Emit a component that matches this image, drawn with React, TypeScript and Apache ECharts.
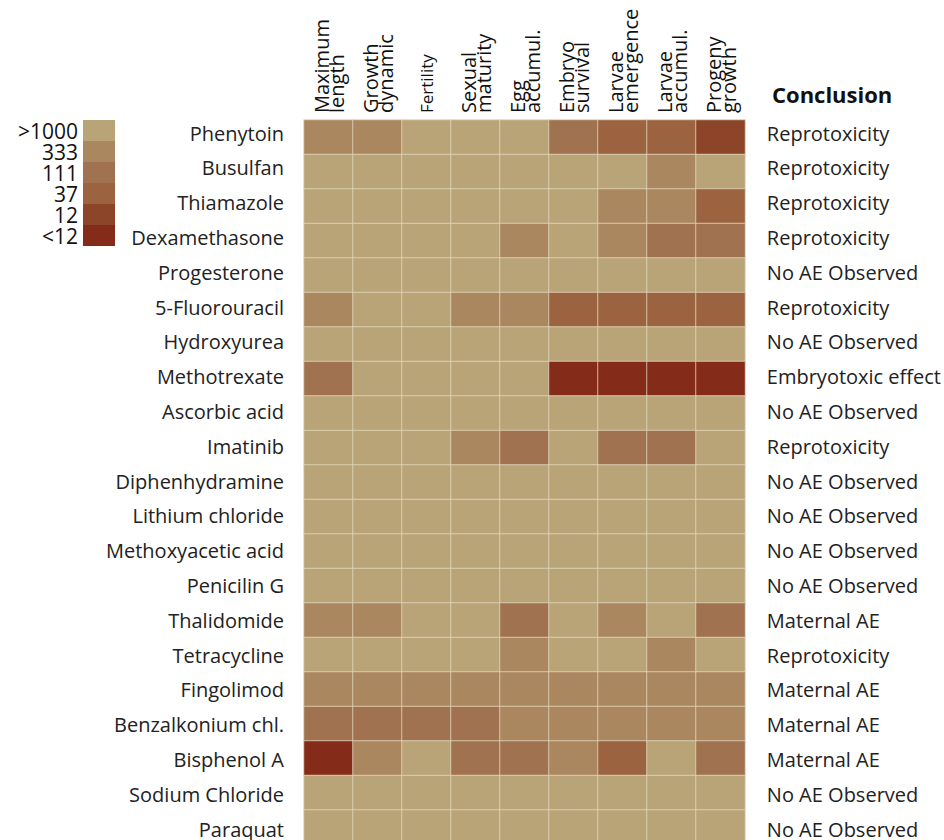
import React, { useEffect, useRef } from 'react';
import * as echarts from 'echarts';

const measures = [
  'Maximum\nlength',
  'Growth\ndynamic',
  'Fertility',
  'Sexual\nmaturity',
  'Egg\naccumul.',
  'Embryo\nsurvival',
  'Larvae\nemergence',
  'Larvae\naccumul.',
  'Progeny\ngrowth',
];

const compounds = [
  'Phenytoin',
  'Busulfan',
  'Thiamazole',
  'Dexamethasone',
  'Progesterone',
  '5-Fluorouracil',
  'Hydroxyurea',
  'Methotrexate',
  'Ascorbic acid',
  'Imatinib',
  'Diphenhydramine',
  'Lithium chloride',
  'Methoxyacetic acid',
  'Penicilin G',
  'Thalidomide',
  'Tetracycline',
  'Fingolimod',
  'Benzalkonium chl.',
  'Bisphenol A',
  'Sodium Chloride',
  'Paraquat',
];

const conclusions = [
  'Reprotoxicity',
  'Reprotoxicity',
  'Reprotoxicity',
  'Reprotoxicity',
  'No AE Observed',
  'Reprotoxicity',
  'No AE Observed',
  'Embryotoxic effect',
  'No AE Observed',
  'Reprotoxicity',
  'No AE Observed',
  'No AE Observed',
  'No AE Observed',
  'No AE Observed',
  'Maternal AE',
  'Reprotoxicity',
  'Maternal AE',
  'Maternal AE',
  'Maternal AE',
  'No AE Observed',
  'No AE Observed',
];

const levelLabels = ['>1000', '333', '111', '37', '12', '<12'];
const levelColors = ['#b9a477', '#ab875f', '#a0724f', '#9b6340', '#8c4528', '#842b1a'];

// level index per compound (row) and measure (column)
const levels = [
  [1, 1, 0, 0, 0, 2, 3, 3, 4],
  [0, 0, 0, 0, 0, 0, 0, 1, 0],
  [0, 0, 0, 0, 0, 0, 1, 1, 3],
  [0, 0, 0, 0, 1, 0, 1, 2, 2],
  [0, 0, 0, 0, 0, 0, 0, 0, 0],
  [1, 0, 0, 1, 1, 3, 3, 3, 3],
  [0, 0, 0, 0, 0, 0, 0, 0, 0],
  [2, 0, 0, 0, 0, 5, 5, 5, 5],
  [0, 0, 0, 0, 0, 0, 0, 0, 0],
  [0, 0, 0, 1, 2, 0, 2, 2, 0],
  [0, 0, 0, 0, 0, 0, 0, 0, 0],
  [0, 0, 0, 0, 0, 0, 0, 0, 0],
  [0, 0, 0, 0, 0, 0, 0, 0, 0],
  [0, 0, 0, 0, 0, 0, 0, 0, 0],
  [1, 1, 0, 0, 2, 0, 1, 0, 2],
  [0, 0, 0, 0, 1, 0, 0, 1, 0],
  [1, 1, 1, 1, 1, 1, 1, 1, 1],
  [2, 2, 2, 2, 1, 1, 1, 1, 1],
  [5, 1, 0, 2, 2, 1, 3, 0, 2],
  [0, 0, 0, 0, 0, 0, 0, 0, 0],
  [0, 0, 0, 0, 0, 0, 0, 0, 0],
];

const FONT = '"Open Sans", "DejaVu Sans", sans-serif';

export default function App() {
  const ref = useRef<HTMLDivElement>(null);

  useEffect(() => {
    if (!ref.current) return;
    const chart = echarts.init(ref.current, null, { renderer: 'svg' });

    const data: any[] = [];
    levels.forEach((row, r) => {
      row.forEach((lv, c) => {
        data.push([c, r, lv]);
      });
    });

    const hiddenAxis = {
      axisLine: { show: false },
      axisTick: { show: false },
      splitLine: { show: false },
    };

    chart.setOption({
      animation: false,
      backgroundColor: '#ffffff',
      textStyle: { fontFamily: FONT },
      title: {
        text: 'Conclusion',
        left: 772,
        top: 83,
        padding: 0,
        textStyle: { fontFamily: FONT, fontSize: 22, fontWeight: 'bold', color: '#111' },
      },
      grid: [
        { left: 304, top: 120, width: 441, height: 724.5 },
        { left: 304, top: 115.6, width: 441, height: 730.8 },
      ],
      xAxis: [
        {
          type: 'category',
          gridIndex: 0,
          position: 'top',
          data: measures,
          ...hiddenAxis,
          axisLabel: {
            rotate: -90,
            margin: 7,
            interval: 0,
            fontFamily: FONT,
            fontSize: 20,
            lineHeight: 15,
            color: '#111',
            formatter: (v: string) => (v === 'Fertility' ? '{s|Fertility}' : v),
            rich: { s: { fontSize: 17, fontFamily: FONT, color: '#111' } },
          },
        },
        {
          type: 'category',
          gridIndex: 1,
          data: measures,
          show: false,
        },
      ],
      yAxis: [
        {
          type: 'category',
          gridIndex: 0,
          data: compounds,
          inverse: true,
          ...hiddenAxis,
          axisLabel: { show: false },
        },
        {
          type: 'category',
          gridIndex: 1,
          data: compounds,
          inverse: true,
          ...hiddenAxis,
          axisLabel: { margin: 20, fontFamily: FONT, fontSize: 20, color: '#222', interval: 0 },
        },
        {
          type: 'category',
          gridIndex: 1,
          data: conclusions,
          inverse: true,
          position: 'right',
          ...hiddenAxis,
          axisLabel: { margin: 22, fontFamily: FONT, fontSize: 20, color: '#222', interval: 0 },
        },
      ],
      visualMap: {
        type: 'piecewise',
        dimension: 2,
        seriesIndex: 0,
        orient: 'vertical',
        inverse: true,
        align: 'right',
        right: 829,
        top: 120,
        padding: 0,
        itemWidth: 32,
        itemHeight: 21,
        itemGap: 0,
        itemSymbol: 'rect',
        textGap: 5,
        selectedMode: false,
        hoverLink: false,
        textStyle: { fontFamily: FONT, fontSize: 21, lineHeight: 21, color: '#111' },
        pieces: levelLabels.map((label, i) => ({ value: i, label, color: levelColors[i] })),
      },
      series: [
        {
          type: 'heatmap',
          xAxisIndex: 0,
          yAxisIndex: 0,
          data,
          itemStyle: { borderColor: 'rgba(228,218,192,0.75)', borderWidth: 1 },
          emphasis: { disabled: true },
        },
      ],
    });

    return () => chart.dispose();
  }, []);

  return (
    <div
      ref={ref}
      style={{ position: 'fixed', left: 0, top: 0, width: 944, height: 848, overflow: 'hidden' }}
    />
  );
}
